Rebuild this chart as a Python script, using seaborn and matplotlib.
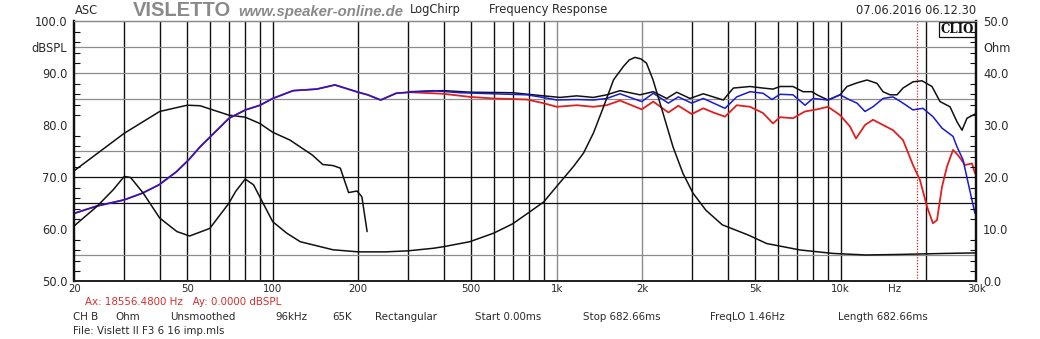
import matplotlib
matplotlib.use("Agg")
import matplotlib.pyplot as plt
import matplotlib.ticker as mticker
import seaborn as sns

# ---------------- data ----------------
# impedance magnitude (Ohm)
imp_freq = [20, 24, 27.4, 30, 31.6, 35, 40, 46, 51, 60, 70, 74, 80, 85.6, 90, 100,
            112, 125, 163, 200, 250, 300, 369, 400, 494, 600, 700, 804, 900, 1000,
            1145, 1243, 1348, 1462, 1586, 1720, 1800, 1887, 1980, 2070, 2183, 2367,
            2567, 2783, 3018, 3353, 3828, 4744, 5487, 7200, 9400, 12260, 16000, 23300,
            30000]
imp_ohm = [10.7, 14.4, 17.6, 20.2, 20.0, 17.0, 12.2, 9.6, 8.75, 10.2, 15.0, 17.3, 19.7,
           18.6, 16.3, 11.5, 9.3, 7.65, 6.1, 5.7, 5.7, 5.9, 6.4, 6.7, 7.65, 9.3, 11.1,
           13.4, 15.3, 18.3, 22.1, 24.7, 28.6, 33.6, 38.8, 41.4, 42.6, 43.1, 42.8, 42.0,
           38.8, 32.4, 25.9, 20.8, 17.0, 13.7, 10.9, 8.9, 7.3, 6.06, 5.4, 5.1, 5.2, 5.4,
           5.5]

# near-field woofer SPL (dB)
nf_freq = [20, 30, 40, 50, 55.5, 70, 80, 90, 100, 115, 138, 150, 163, 173, 185, 198, 206, 215]
nf_db = [71.3, 78.5, 82.7, 83.9, 83.8, 82.0, 81.6, 80.4, 78.7, 77.2, 74.3, 72.5, 72.3,
         71.8, 67.1, 67.4, 66.3, 59.6]

# shared low-frequency part of the two system responses (dB)
sys_lo_freq = [20, 24, 30, 34.8, 39.8, 45.8, 50.6, 55.5, 60.2, 70.2, 80.2, 90.3, 100,
               118, 143, 165.6, 200, 216, 240, 272]
sys_lo_db = [63.1, 64.5, 65.7, 67.0, 68.6, 71.1, 73.4, 75.9, 77.8, 81.4, 83.0, 83.9,
             85.2, 86.7, 87.0, 87.8, 86.4, 85.9, 84.9, 86.2]

# blue response above 300 Hz (dB)
blue_freq = [304, 368, 457, 598, 784, 897, 1000, 1176, 1345, 1500, 1670, 1992, 2188,
             2472, 2680, 2988, 3282, 3914, 4304, 4794, 5326, 5728, 6112, 6792, 7486,
             7988, 9020, 9946, 10784, 11414, 12178, 12994, 14092, 15282, 16572, 17968,
             19486, 21120, 22730, 24860, 25680, 26960, 28540, 29700]
blue_db = [86.4, 86.7, 86.3, 86.1, 85.9, 85.4, 84.9, 85.0, 84.9, 85.2, 86.1, 84.6, 86.2,
           84.3, 85.5, 84.3, 85.2, 83.3, 85.5, 86.5, 86.2, 85.0, 86.0, 85.9, 83.9, 85.2,
           84.9, 85.9, 84.9, 84.3, 82.7, 83.6, 85.2, 85.5, 84.3, 83.0, 83.3, 81.7, 79.5,
           77.9, 75.9, 73.4, 67.3, 63.1]

# red response above 300 Hz (dB)
red_freq = [304, 399, 495, 598, 784, 897, 1000, 1176, 1345, 1500, 1670, 1992, 2188,
            2472, 2680, 2988, 3282, 3560, 3914, 4304, 4794, 5326, 5776, 6112, 6792,
            7486, 8252, 9020, 9946, 10784, 11322, 12178, 12994, 14092, 15282, 16572,
            17968, 19020, 20130, 21120, 21830, 22730, 23670, 24860, 25880, 27400,
            29000, 29700]
red_db = [86.4, 86.1, 85.5, 85.2, 85.0, 84.3, 83.6, 83.9, 83.6, 83.9, 84.8, 83.1, 84.6,
          82.5, 83.8, 82.2, 83.3, 82.5, 81.7, 83.9, 83.6, 82.4, 80.4, 81.6, 81.4, 82.7,
          83.1, 83.6, 82.0, 79.8, 77.5, 80.1, 81.1, 80.1, 79.1, 77.2, 72.4, 69.5, 64.4,
          61.2, 61.8, 68.2, 72.1, 75.3, 74.3, 72.4, 72.7, 70.8]

# black response (dB)
black_freq = [300, 400, 500, 700, 900, 1027, 1176, 1345, 1500, 1670, 1964, 2188, 2440,
              2646, 2946, 3282, 3860, 4188, 4794, 5326, 5776, 6112, 6792, 7366, 7924,
              8252, 9020, 9946, 10524, 11414, 12376, 13422, 14092, 14914, 15786, 16572,
              17968, 19330, 20960, 22370, 24260, 25680, 26740, 27840, 29700]
black_db = [86.5, 86.7, 86.4, 86.3, 85.7, 85.4, 85.7, 85.4, 85.9, 86.7, 85.9, 86.5, 85.2,
            86.4, 85.2, 86.1, 84.9, 87.2, 87.5, 87.2, 87.0, 87.5, 87.5, 86.5, 86.5, 85.9,
            84.9, 85.9, 87.5, 88.2, 88.75, 88.1, 86.5, 85.9, 85.9, 87.2, 88.4, 88.6,
            87.5, 84.6, 83.6, 80.7, 79.1, 81.4, 82.2]

cursor_freq = 18556.48

spl_ticks = [100, 95, 90, 80, 70, 60, 50]
spl_ticklabels = ["100.0", "dBSPL", "90.0", "80.0", "70.0", "60.0", "50.0"]
ohm_ticks = [50, 45, 40, 30, 20, 10, 0]
ohm_ticklabels = ["50.0", "Ohm", "40.0", "30.0", "20.0", "10.0", "0.0"]
freq_ticks = [20, 50, 100, 200, 500, 1000, 2000, 5000, 10000, 30000]
freq_ticklabels = ["20", "50", "100", "200", "500", "1k", "2k", "5k", "10k", "30k"]

grid_freqs = ([30, 40, 50, 60, 70, 80, 90] + [100 * k for k in range(1, 10)]
              + [1000 * k for k in range(1, 10)] + [10000, 20000])
grid_db = [95, 90, 85, 75, 70, 65, 55]

# ---------------- style ----------------
sns.set_style("white")
plt.rcParams["font.family"] = ["DejaVu Sans"]
TXT = "#2a2a2a"
FS = 8.3      # header and y labels
FS_LOW = 7.4  # x labels and footer lines (tightly stacked)

fig = plt.figure(figsize=(10.4, 3.39), dpi=100)
ax = fig.add_axes([0.07135, 0.16962, 0.86731, 0.76696])
ax.set_xscale("log")
ax.set_xlim(20, 30000)
ax.set_ylim(50, 100)

# grid
for f in grid_freqs:
    col = "#8c8c8c" if f in (1000, 2000) else "#101010"
    ax.axvline(f, color=col, lw=1.0, zorder=1)
for d in grid_db:
    col = "#101010" if d in (70, 65) else "#8c8c8c"
    ax.axhline(d, color=col, lw=0.9, zorder=1)
ax.axvline(cursor_freq, color="#d42020", lw=0.9, ls=(0, (1, 1.3)), zorder=2)

ax2 = ax.twinx()
ax2.set_ylim(0, 50)

# curves
sns.lineplot(x=imp_freq, y=imp_ohm, ax=ax2, color="#111111", lw=1.1, sort=False,
             estimator=None, zorder=3)
sns.lineplot(x=nf_freq, y=nf_db, ax=ax, color="#111111", lw=1.1, sort=False,
             estimator=None, zorder=3)
sns.lineplot(x=black_freq, y=black_db, ax=ax, color="#111111", lw=1.1, sort=False,
             estimator=None, zorder=3)
sns.lineplot(x=sys_lo_freq + red_freq, y=sys_lo_db + red_db, ax=ax, color="#e02020",
             lw=1.3, sort=False, estimator=None, zorder=4)
sns.lineplot(x=sys_lo_freq + blue_freq, y=sys_lo_db + blue_db, ax=ax, color="#1a1ad0",
             lw=1.1, sort=False, estimator=None, zorder=5)
ax.set_xlim(20, 30000)

# axes decoration
for a in (ax, ax2):
    a.set_xlabel("")
    a.set_ylabel("")
    a.spines["left"].set_color("#111111")
    a.spines["left"].set_linewidth(1.6)
    a.spines["right"].set_color("#111111")
    a.spines["right"].set_linewidth(1.6)
    a.spines["bottom"].set_color("#222222")
    a.spines["bottom"].set_linewidth(1.3)
    a.spines["top"].set_color("#8c8c8c")
    a.spines["top"].set_linewidth(0.9)

ax.set_xticks(freq_ticks)
ax.set_xticklabels(freq_ticklabels)
ax.xaxis.set_minor_locator(mticker.NullLocator())
ax.tick_params(axis="x", which="major", length=0, pad=1.5, labelsize=FS_LOW,
               labelcolor=TXT)

ax.set_yticks(spl_ticks)
ax.set_yticklabels(spl_ticklabels)
ax.yaxis.set_minor_locator(mticker.MultipleLocator(2))
ax.tick_params(axis="y", which="major", direction="in", length=0, pad=5,
               labelsize=FS, labelcolor=TXT)
ax.tick_params(axis="y", which="minor", direction="in", length=4, width=0.8,
               color="#111111")

ax2.set_yticks(ohm_ticks)
ax2.set_yticklabels(ohm_ticklabels)
ax2.yaxis.set_minor_locator(mticker.MultipleLocator(2))
ax2.tick_params(axis="y", which="major", direction="in", length=0, pad=5,
                labelsize=FS, labelcolor=TXT)
ax2.tick_params(axis="y", which="minor", direction="in", length=4, width=0.8,
                color="#111111")

ax.text(0.91, -0.008, "Hz", transform=ax.transAxes, ha="center", va="top",
        fontsize=FS_LOW, color=TXT)

# CLIO badge
ax.text(0.9975, 0.994, "CLIO", transform=ax.transAxes, ha="right", va="top",
        fontsize=8.5, fontweight="bold", family="DejaVu Serif", color="#111111",
        bbox=dict(boxstyle="square,pad=0.1", fc="white", ec="#111111", lw=0.9),
        zorder=10)

# header
fig.text(75 / 1040, 1 - 10 / 339, "ASC", fontsize=FS, color=TXT, va="center")
fig.text(133 / 1040, 1 - 10 / 339, "VISLETTO", fontsize=14.5, fontweight="bold",
         color="#8a8a8a", va="center", family="Liberation Sans")
fig.text(238 / 1040, 1 - 12 / 339, "www.speaker-online.de", fontsize=10.7,
         fontweight="bold", style="italic", color="#8a8a8a", va="center",
         family="Liberation Sans")
fig.text(410 / 1040, 1 - 10 / 339, "LogChirp", fontsize=FS, color=TXT, va="center")
fig.text(489 / 1040, 1 - 10 / 339, "Frequency Response", fontsize=FS, color=TXT,
         va="center")
fig.text(976 / 1040, 1 - 10 / 339, "07.06.2016 06.12.30", fontsize=FS, color=TXT,
         va="center", ha="right")

# footer
fig.text(85 / 1040, 1 - 302 / 339, "Ax: 18556.4800 Hz   Ay: 0.0000 dBSPL",
         fontsize=FS_LOW, color="#d43030", va="center")
footer_items = [(73, "CH B"), (115, "Ohm"), (170, "Unsmoothed"), (275, "96kHz"),
                (332, "65K"), (375, "Rectangular"), (475, "Start 0.00ms"),
                (583, "Stop 682.66ms"), (710, "FreqLO 1.46Hz"),
                (838, "Length 682.66ms")]
for xpix, s in footer_items:
    fig.text(xpix / 1040, 1 - 317 / 339, s, fontsize=FS_LOW, color=TXT, va="center")
fig.text(73 / 1040, 1 - 331 / 339, "File: Vislett II F3 6 16 imp.mls", fontsize=FS_LOW,
         color=TXT, va="center")

fig.savefig("out.png", dpi=100, facecolor="white")
